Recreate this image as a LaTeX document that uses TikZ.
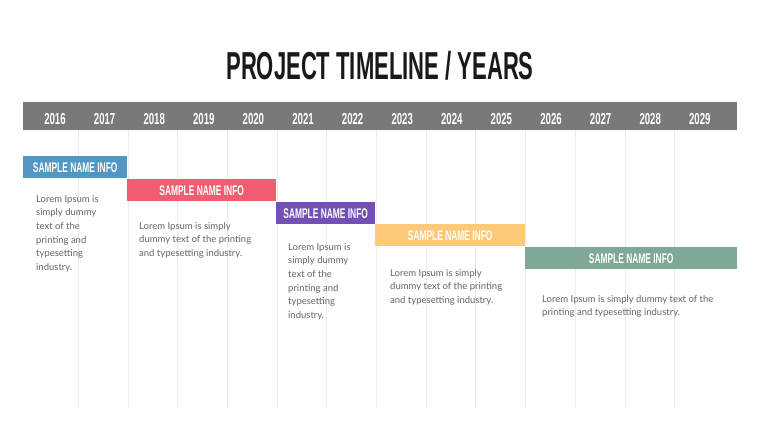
\documentclass[tikz,border=0pt]{standalone}
\usepackage{fontspec}
\usepackage{xcolor}
\usepackage{tikz}
\usetikzlibrary{positioning}
\setmainfont{Lato}
\newfontfamily\headfont{Liberation Sans}[FakeStretch=0.6]
\newfontfamily\titlefont{Liberation Sans}[FakeStretch=0.565]
\definecolor{bargray}{RGB}{122,120,122}
\definecolor{gridgray}{RGB}{234,233,238}
\definecolor{textgray}{RGB}{100,100,100}
\definecolor{infoblue}{RGB}{82,151,196}
\definecolor{infopink}{RGB}{240,92,112}
\definecolor{infopurple}{RGB}{114,80,182}
\definecolor{infoorange}{RGB}{252,200,122}
\definecolor{infogreen}{RGB}{128,168,150}

\tikzset{
    infobox/.style={anchor=north west, inner sep=0pt, minimum height=22pt,
        text=white, font=\headfont\bfseries\fontsize{14}{14}\selectfont},
    infotext/.style={anchor=north west, inner sep=0pt, align=left,
        text=textgray, font=\fontsize{9.5}{13.7}\selectfont},
    yearlabel/.style={anchor=base, text=white, font=\headfont\bfseries\fontsize{16}{16}\selectfont}
}

\begin{document}
\begin{tikzpicture}[x=1pt, y=-1pt]
\useasboundingbox[fill=white] (0,0) rectangle (760,428);

% title
\node[anchor=base, font=\titlefont\bfseries\fontsize{39}{39}\selectfont, text={black!90}] (title) at (380,80) {PROJECT TIMELINE / YEARS};

% year bar and grid
\fill[bargray] (23,102) rectangle (737,130);
\foreach \k in {1,...,13}
    \draw[gridgray, line width=0.8pt] (28.5+49.7*\k,130) -- (28.5+49.7*\k,408);
\foreach \yr [count=\k from 0] in {2016,...,2029}
    \node[yearlabel] (y\yr) at (55+49.6*\k,124) {\yr};

% phases
\node[infobox, fill=infoblue, minimum width=104pt] (p1) at (23,156) {SAMPLE NAME INFO};
\node[infobox, fill=infopink, minimum width=149pt] (p2) at (127,179) {SAMPLE NAME INFO};
\node[infobox, fill=infopurple, minimum width=99pt] (p3) at (276,202) {SAMPLE NAME INFO};
\node[infobox, fill=infoorange, minimum width=150pt] (p4) at (375,224) {SAMPLE NAME INFO};
\node[infobox, fill=infogreen, minimum width=212pt] (p5) at (525,247) {SAMPLE NAME INFO};

% descriptions
\node[infotext] (t1) at (36,195) {Lorem Ipsum is\\simply dummy\\text of the\\printing and\\typesetting\\industry.};
\node[infotext] (t2) at (139,222) {Lorem Ipsum is simply\\dummy text of the printing\\and typesetting industry.};
\node[infotext] (t3) at (288,243) {Lorem Ipsum is\\simply dummy\\text of the\\printing and\\typesetting\\industry.};
\node[infotext] (t4) at (390,269) {Lorem Ipsum is simply\\dummy text of the printing\\and typesetting industry.};
\node[infotext] (t5) at (542,295) {Lorem Ipsum is simply dummy text of the\\printing and typesetting industry.};
\end{tikzpicture}
\end{document}
